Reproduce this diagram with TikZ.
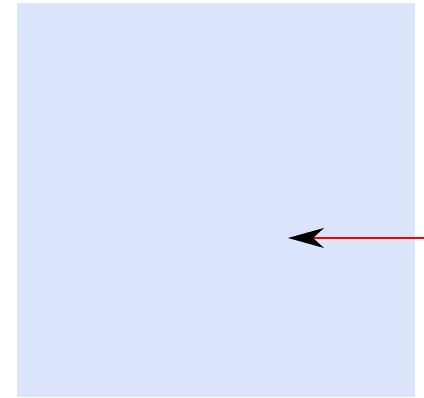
\documentclass[tikz,border=0pt]{standalone}
\usetikzlibrary{arrows.meta}
\definecolor{panelblue}{RGB}{220,228,252}
\begin{document}
\begin{tikzpicture}[x=1pt,y=1pt,
  panel/.style={fill=panelblue,draw=none},
  pointer/.style={draw=red,line width=1.5pt,-{Stealth[length=36pt,width=20pt,inset=11pt,color=black]}}]
\useasboundingbox (0,0) rectangle (424,398);
\fill[panelblue] (17,1) rectangle (415,395);
\coordinate (src) at (424,160);
\coordinate (dst) at (288,160);
\draw[pointer] (src) -- (dst);
\end{tikzpicture}
\end{document}
